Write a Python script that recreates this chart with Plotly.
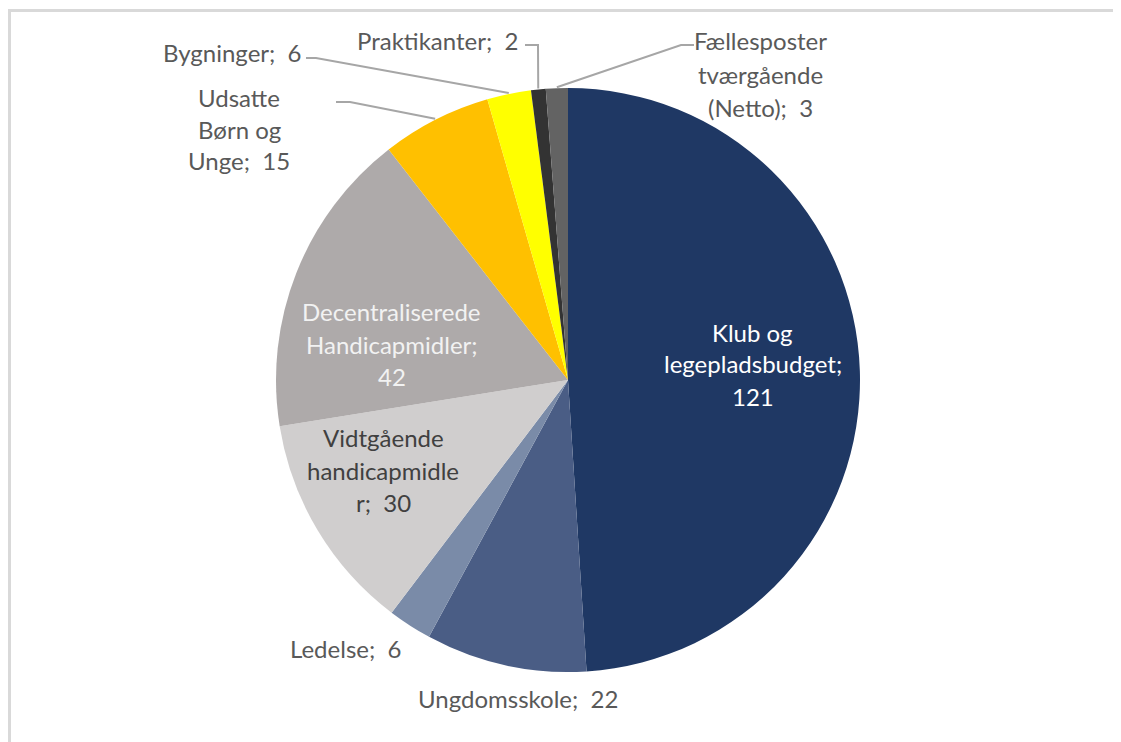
import math
import plotly.graph_objects as go

# ---- data ----
categories = [
    "Klub og legepladsbudget",
    "Ungdomsskole",
    "Ledelse",
    "Vidtgående handicapmidler",
    "Decentraliserede Handicapmidler",
    "Udsatte Børn og Unge",
    "Bygninger",
    "Praktikanter",
    "Fællesposter tværgående (Netto)",
]
values = [121, 22, 6, 30, 42, 15, 6, 2, 3]

# ---- style ----
colors = ["#1F3864", "#4A5D85", "#7A8BA8", "#D0CECE", "#AEAAAA",
          "#FFC000", "#FFFF00", "#333333", "#636363"]

SEP = ";\u00a0 "
# how each label is wrapped ({v} = value)
wrapped = {
    "Klub og legepladsbudget": ["Klub og", "legepladsbudget;", "{v}"],
    "Ungdomsskole": ["Ungdomsskole" + SEP + "{v}"],
    "Ledelse": ["Ledelse" + SEP + "{v}"],
    "Vidtgående handicapmidler": ["Vidtgående", "handicapmidle", "r" + SEP + "{v}"],
    "Decentraliserede Handicapmidler": ["Decentraliserede", "Handicapmidler;", "{v}"],
    "Udsatte Børn og Unge": ["Udsatte", "Børn og", "Unge" + SEP + "{v}"],
    "Bygninger": ["Bygninger" + SEP + "{v}"],
    "Praktikanter": ["Praktikanter" + SEP + "{v}"],
    "Fællesposter tværgående (Netto)": ["Fællesposter", "tværgående", "(Netto)" + SEP + "{v}"],
}
# label block centre (screen px), line spacing (px), text colour
label_style = {
    "Klub og legepladsbudget": (753, 364, 32, "#FFFFFF"),
    "Ungdomsskole": (518, 698, 32, "#595959"),
    "Ledelse": (345, 648, 32, "#595959"),
    "Vidtgående handicapmidler": (383, 470, 32.5, "#404040"),
    "Decentraliserede Handicapmidler": (392, 344, 32.5, "#F2F2F2"),
    "Udsatte Børn og Unge": (239, 129, 31.5, "#595959"),
    "Bygninger": (232, 52, 32, "#595959"),
    "Praktikanter": (437, 41, 32, "#595959"),
    "Fællesposter tværgående (Netto)": (760, 74, 33, "#595959"),
}
# leader line points (screen px): start near label, elbow
leaders = {
    "Udsatte Børn og Unge": [(336, 102), (350, 102)],
    "Bygninger": [(306, 58), (316, 58)],
    "Praktikanter": [(525, 45), (538, 45)],
    "Fællesposter tværgående (Netto)": [(694, 45), (681, 45)],
}

W, H = 1121, 742
OFF = 8  # page body margin
CX, CY, R = 568, 380, 292
FONT = "Lato"
FS = 24


def px_x(x):
    return (x - OFF) / W


def px_y(y):
    return 1 - (y - OFF) / H


fig = go.Figure()
fig.add_trace(go.Pie(
    labels=categories,
    values=values,
    sort=False,
    direction="clockwise",
    rotation=0,
    marker=dict(colors=colors, line=dict(width=0)),
    textinfo="none",
    hoverinfo="label+value",
    showlegend=False,
    domain=dict(x=[px_x(CX - R), px_x(CX + R)],
                y=[px_y(CY + R), px_y(CY - R)]),
))

annotations = []
for cat, v in zip(categories, values):
    lines = [s.format(v=v) for s in wrapped[cat]]
    cx, cy, sp, col = label_style[cat]
    n = len(lines)
    for i, t in enumerate(lines):
        y = cy + (i - (n - 1) / 2) * sp
        annotations.append(dict(
            x=px_x(cx), y=px_y(y), xref="paper", yref="paper",
            text=t, showarrow=False, xanchor="center", yanchor="middle",
            font=dict(family=FONT, size=FS, color=col),
        ))

# leader lines: end on the rim at each slice's mid angle (from data)
total = sum(values)
shapes = []
cum = 0
for cat, v in zip(categories, values):
    mid = (cum + v / 2) / total * 2 * math.pi
    cum += v
    if cat not in leaders:
        continue
    rx = CX + (R + 1) * math.sin(mid)
    ry = CY - (R + 1) * math.cos(mid)
    pts = leaders[cat] + [(rx, ry)]
    path = "M " + " L ".join(f"{px_x(x):.5f},{px_y(y):.5f}" for x, y in pts)
    shapes.append(dict(type="path", xref="paper", yref="paper", path=path,
                       line=dict(color="#A6A6A6", width=2), layer="above"))

# chart frame
shapes.append(dict(type="rect", xref="paper", yref="paper",
                   x0=1.5 / W, x1=1.02, y0=-0.02, y1=px_y(10.5),
                   line=dict(color="#D9D9D9", width=3), layer="below"))

fig.update_layout(
    width=W, height=H,
    margin=dict(l=0, r=0, t=0, b=0),
    paper_bgcolor="white",
    plot_bgcolor="white",
    annotations=annotations,
    shapes=shapes,
)

fig.write_html("out.html")
